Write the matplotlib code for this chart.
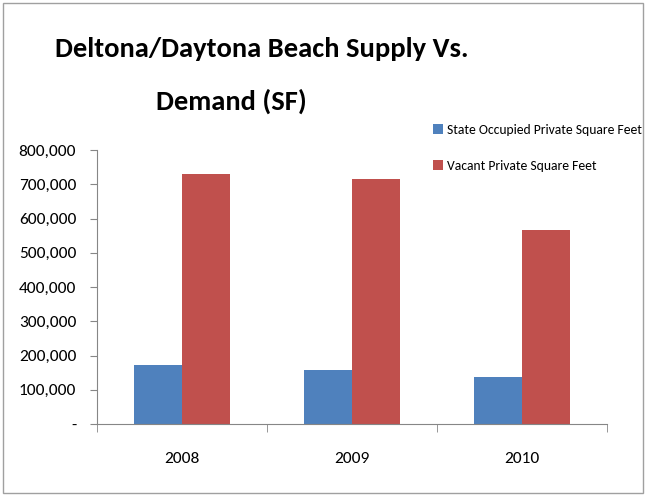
import matplotlib
matplotlib.use("Agg")
import matplotlib.pyplot as plt
from matplotlib.patches import Rectangle
from matplotlib.ticker import FuncFormatter

plt.rcParams['font.family'] = ['Carlito', 'DejaVu Sans']

years = ['2008', '2009', '2010']
occupied = [172000, 157000, 137000]
vacant = [730000, 715000, 566000]
series_names = ['State Occupied Private Square Feet', 'Vacant Private Square Feet']
colors = ['#4F81BD', '#C0504D']

fig = plt.figure(figsize=(6.47, 4.96), dpi=100)
ax = fig.add_axes([97 / 647, 1 - 424 / 496, 510 / 647, 274 / 496])

x = list(range(len(years)))
w = 0.282
ax.bar([i - w / 2 for i in x], occupied, w, color=colors[0], label=series_names[0])
ax.bar([i + w / 2 for i in x], vacant, w, color=colors[1], label=series_names[1])

ax.set_xlim(-0.5, len(years) - 0.5)
ax.set_ylim(0, 800000)
ax.set_yticks(range(0, 800001, 100000))
ax.yaxis.set_major_formatter(FuncFormatter(lambda v, p: '-' if v == 0 else f'{int(v):,}'))
ax.set_xticks(x)
ax.set_xticklabels(years)
ax.set_xticks([i - 0.5 for i in range(len(years) + 1)], minor=True)
ax.tick_params(axis='x', which='major', length=0, pad=20, labelsize=12.5)
ax.tick_params(axis='x', which='minor', length=6, color='#868686')
ax.tick_params(axis='y', length=5, color='#868686', labelsize=12.5, pad=10)

for s in ['top', 'right']:
    ax.spines[s].set_visible(False)
for s in ['left', 'bottom']:
    ax.spines[s].set_color('#868686')

fig.text(262 / 647, 1 - 49 / 496, 'Deltona/Daytona Beach Supply Vs.', ha='center', va='center',
         fontsize=20.5, fontweight='bold')
fig.text(231 / 647, 1 - 101 / 496, 'Demand (SF)', ha='center', va='center',
         fontsize=20.5, fontweight='bold')

ax.legend(loc='upper left', bbox_to_anchor=(433 / 647, 1 - 124 / 496), bbox_transform=fig.transFigure,
          frameon=False, fontsize=9.8, handlelength=0.7, handleheight=0.7, handletextpad=0.35,
          labelspacing=1.75, borderaxespad=0, borderpad=0)

fig.patches.append(Rectangle((3 / 647, 3 / 496), 640 / 647, 490 / 496, transform=fig.transFigure,
                             fill=False, edgecolor='#a0a0a0', linewidth=1))

fig.savefig('out.png', dpi=100)
